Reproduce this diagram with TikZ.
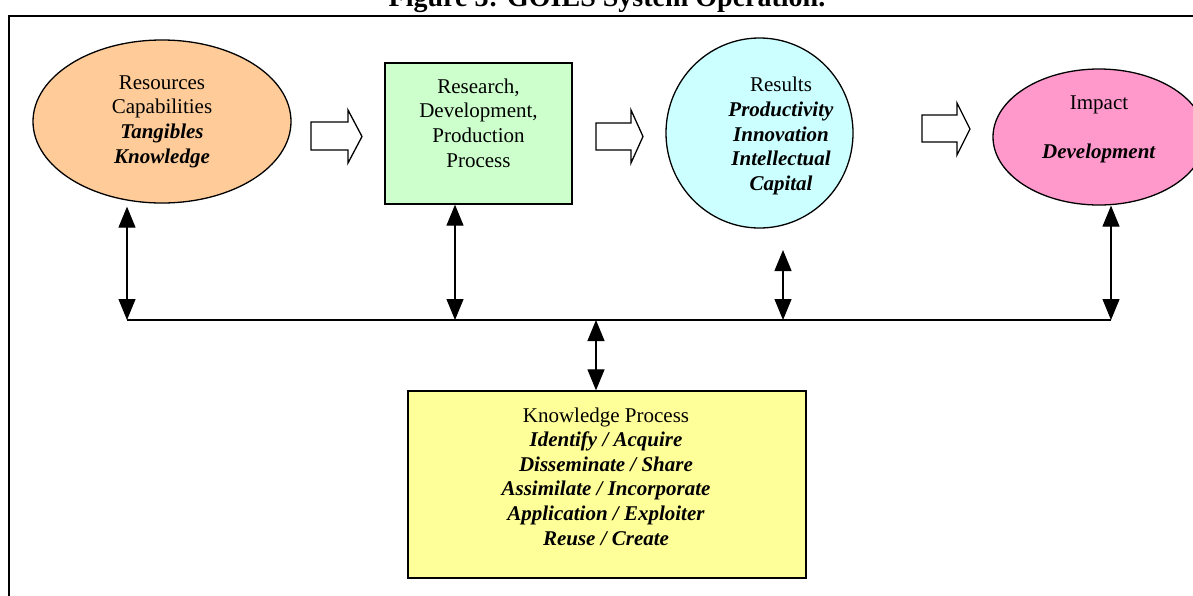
\documentclass[tikz,border=0pt]{standalone}
\usepackage{fontspec}
\setmainfont{Liberation Serif}
\usetikzlibrary{shapes.geometric,arrows.meta}

\definecolor{resfill}{HTML}{FFCC99}
\definecolor{procfill}{HTML}{CCFFCC}
\definecolor{resultfill}{HTML}{CCFFFF}
\definecolor{impactfill}{HTML}{FF99CC}
\definecolor{kpfill}{HTML}{FFFF99}

\tikzset{
  txt/.style={align=center, inner sep=0pt, font=\fontsize{21}{24.6}\selectfont},
  oval/.style={ellipse, draw=black, line width=1.3pt, inner sep=0pt},
  boxed/.style={rectangle, draw=black, line width=1.3pt, inner sep=0pt},
  blockarrow/.style={draw=black, fill=white, line width=1.3pt, line join=miter},
  link/.style={line width=1.2pt, {Triangle[width=17pt,length=21pt]}-{Triangle[width=17pt,length=21pt]}},
  bus/.style={line width=1.8pt}
}

\begin{document}
\begin{tikzpicture}[x=1pt,y=-1pt]
\useasboundingbox (0,0) rectangle (1193,595);
\clip (0,0) rectangle (1193,595);

% caption and outer frame
\node[txt, font=\fontsize{28}{32}\selectfont\bfseries, anchor=base] (title) at (607,6) {Figure 3: GOIES System Operation.};
\draw[line width=2pt] (1200,16) -- (9,16) -- (9,600);

% main stages
\node[oval, fill=resfill, minimum width=258pt, minimum height=163pt] (res) at (162,121.5) {};
\node[txt] (restxt) at (162,121.5) {Resources\\Capabilities\\\textbf{\textit{Tangibles}}\\\textbf{\textit{Knowledge}}};

\node[boxed, fill=procfill, minimum width=187pt, minimum height=141pt] (proc) at (478.5,133.5) {};
\node[txt] (proctxt) at (478.5,123) {Research,\\Development,\\Production\\Process};

\node[oval, fill=resultfill, minimum width=187pt, minimum height=190pt] (result) at (759.5,133) {};
\node[txt] (resulttxt) at (781,136) {Results\\\textbf{\textit{Productivity}}\\\textbf{\textit{Innovation}}\\\textbf{\textit{Intellectual}}\\\textbf{\textit{Capital}}};

\node[oval, fill=impactfill, minimum width=212pt, minimum height=136pt] (impact) at (1099,137) {};
\node[txt] (impacttxt) at (1099,129) {Impact\\[24.6pt]\textbf{\textit{Development}}};

% knowledge process box
\node[boxed, fill=kpfill, minimum width=398pt, minimum height=187pt] (kp) at (607,484.5) {};
\node[txt] (kptxt) at (606,476.5) {Knowledge Process\\\textbf{\textit{Identify / Acquire}}\\\textbf{\textit{Disseminate / Share}}\\\textbf{\textit{Assimilate / Incorporate}}\\\textbf{\textit{Application / Exploiter}}\\\textbf{\textit{Reuse / Create}}};

% block arrows between stages
\draw[blockarrow] (311,122) -- (348,122) -- (348,110) -- (362,136.5) -- (348,163) -- (348,150) -- (311,150) -- cycle;
\draw[blockarrow] (596,123) -- (631,123) -- (631,110) -- (643,136.5) -- (631,163) -- (631,150) -- (596,150) -- cycle;
\draw[blockarrow] (922,115) -- (957,115) -- (957,103) -- (970,129) -- (957,155) -- (957,142) -- (922,142) -- cycle;

% shared knowledge bus
\coordinate (b1) at (127,320);
\coordinate (b2) at (455,320);
\coordinate (b3) at (783,320);
\coordinate (b4) at (1111,320);
\coordinate (bc) at (596,320);
\coordinate (r3) at (783,250);
\draw[bus] (b1) -- (b4);

\draw[link] (b1 |- res.south) ++(0,3) -- (b1);
\draw[link] (b2 |- proc.south) -- (b2);
\draw[link] (r3) -- (b3);
\draw[link] (b4 |- impact.south) -- (b4);
\draw[link] (bc) -- (bc |- kp.north);
\end{tikzpicture}
\end{document}
